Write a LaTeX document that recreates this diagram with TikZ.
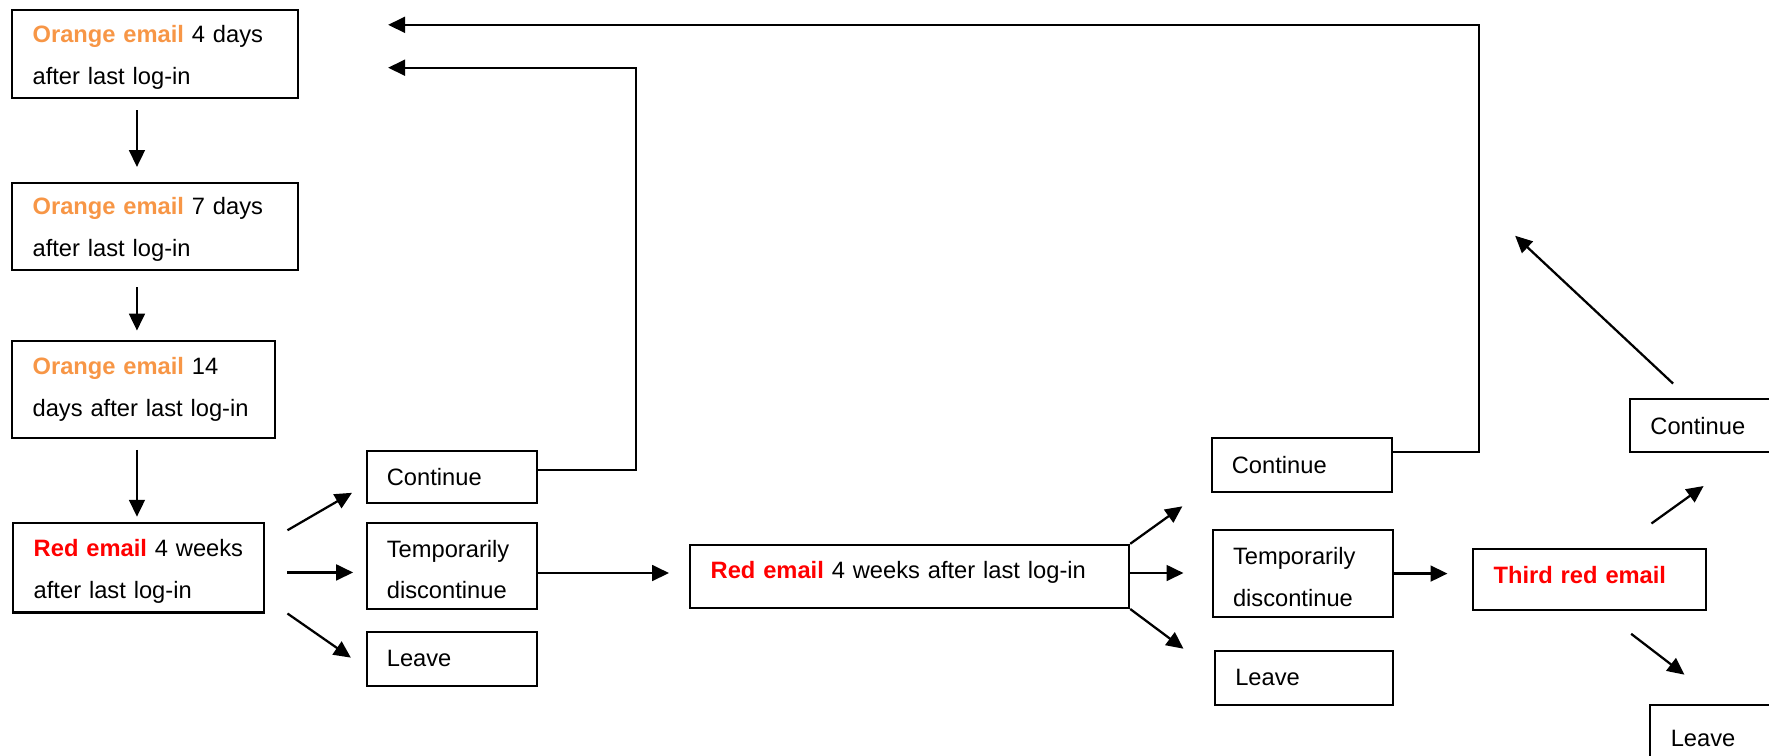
\documentclass[tikz,border=0pt]{standalone}
\usepackage{fontspec}
\setmainfont{Liberation Sans}
\usetikzlibrary{positioning,arrows.meta}
\definecolor{mailorange}{RGB}{247,150,70}
\definecolor{mailred}{RGB}{255,0,0}
\newcommand{\ormail}[1]{\textcolor{mailorange}{\textbf{#1}}}
\newcommand{\redmail}[1]{\textcolor{mailred}{\textbf{#1}}}

\begin{document}
\begin{tikzpicture}
    [x=1pt,y=-1pt,
     card/.style={rectangle,draw,line width=1.8pt,anchor=north west,align=left,
       inner xsep=18pt,inner ysep=0pt,font=\fontsize{21pt}{37pt}\selectfont},
     twoline/.style={text height=21pt},
     flow/.style={-{Triangle[length=15pt,width=14pt]},line width=2pt}]

    \useasboundingbox (0,0) rectangle (1568,670);

    % reminder chain
    \node[card,twoline,text width=217pt,minimum height=78pt] (o4) at (10,8)
      {\ormail{Orange email} 4 days\\after last log-in};
    \node[card,twoline,text width=217pt,minimum height=77pt] (o7) at (10,161)
      {\ormail{Orange email} 7 days\\after last log-in};
    \node[card,text width=197pt,minimum height=86pt] (o14) at (10,301)
      {\ormail{Orange email} 14\\days after last log-in};
    \node[card,twoline,text width=186pt,minimum height=79pt] (r1) at (11,463)
      {\redmail{Red email} 4 weeks\\after last log-in};

    % first choice
    \node[card,text width=115pt,minimum height=46pt] (c1) at (324,399) {Continue};
    \node[card,twoline,text width=115pt,minimum height=76pt] (t1) at (324,463) {Temporarily\\discontinue};
    \node[card,text width=115pt,minimum height=48pt] (l1) at (324,559) {Leave};

    \node[card,text width=353pt,minimum height=56pt,text depth=12pt] (r2) at (611,482)
      {\redmail{Red email} 4 weeks after last log-in};

    % second choice
    \node[card,text width=124pt,minimum height=48pt] (c2) at (1073,387) {Continue};
    \node[card,twoline,text width=124pt,minimum height=77pt] (t2) at (1074,469) {Temporarily\\discontinue};
    \node[card,text width=122pt,minimum height=48pt] (l2) at (1076,576) {Leave};

    \node[card,text width=170pt,minimum height=54pt,text depth=9pt] (third) at (1305,486)
      {\redmail{Third red email}};

    % third choice
    \node[card,text width=150pt,minimum height=47pt] (c3) at (1444,353) {Continue};
    \node[card,text width=150pt,minimum height=60pt] (l3) at (1462,624) {Leave};

    \coordinate (ret1) at (344,60);
    \coordinate (ret2) at (344,22);
    \coordinate (up3) at (1343,209);

    \draw[flow,shorten <=10pt,shorten >=13pt] ([xshift=-16pt]o4.south) -- ([xshift=-16pt]o7.north);
    \draw[flow,shorten <=15pt,shorten >=8pt] ([xshift=-16pt]o7.south) -- ([xshift=-16pt]o7.south |- o14.north);
    \draw[flow,shorten <=10pt,shorten >=5pt] ([xshift=-6pt]o14.south) -- ([xshift=-6pt]o14.south |- r1.north);

    \draw[flow] ([xshift=20pt,yshift=-7pt]r1.north east) -- ([xshift=-12pt,yshift=10pt]c1.south west);
    \draw[flow,shorten <=20pt,shorten >=11pt] ([yshift=-4pt]r1.east) -- ([yshift=-4pt]r1.east -| t1.west);
    \draw[flow] ([xshift=20pt]r1.south east) -- ([xshift=-13pt,yshift=1pt]l1.west);

    \draw[flow] ([yshift=6pt]c1.east) -| ([xshift=220pt]ret1) -- (ret1);
    \draw[flow,shorten >=18pt] ([yshift=-6pt]t1.east) -- ([yshift=-6pt]t1.east -| r2.west);

    \draw[flow] (r2.north east) -- ([xshift=-25pt,yshift=-12pt]c2.south west);
    \draw[flow,shorten >=25pt] ([yshift=3pt]r2.east) -- ([yshift=3pt]r2.east -| t2.west);
    \draw[flow] (r2.south east) -- ([xshift=-27pt,yshift=1pt]l2.north west);

    \draw[flow] ([yshift=11pt]c2.east) -| ([xshift=967pt]ret2) -- (ret2);
    \draw[flow,shorten >=22pt] (t2.east) -- (t2.east -| third.west);

    \draw[flow] ([xshift=-49pt,yshift=22pt]third.north east) -- ([xshift=66pt,yshift=-29pt]c3.south west);
    \draw[flow] ([xshift=-67pt,yshift=-20pt]third.south east) -- ([xshift=31pt,yshift=26pt]l3.north west);
    \draw[flow] ([xshift=39pt,yshift=13pt]c3.north west) -- (up3);
  \end{tikzpicture}
\end{document}
